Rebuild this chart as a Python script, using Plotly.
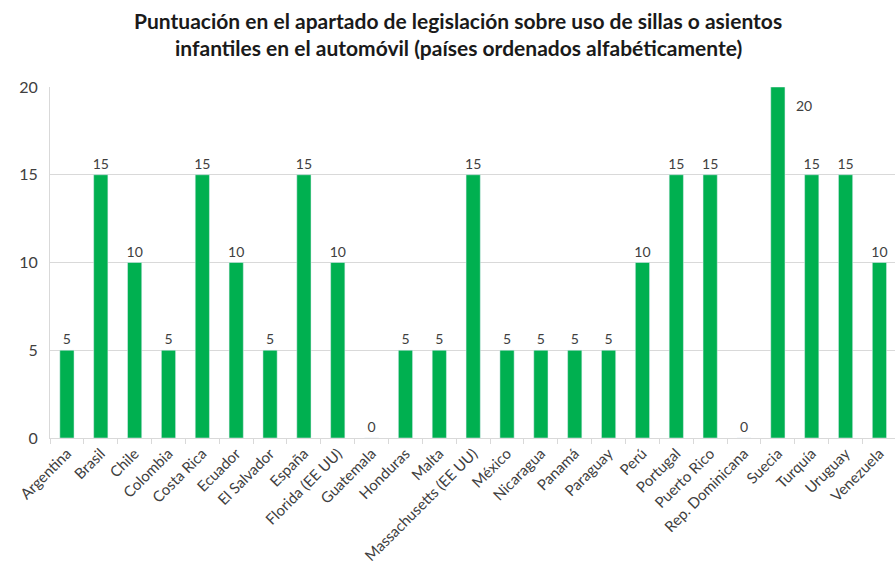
import plotly.graph_objects as go

# Scores per country (alphabetical order)
paises = ["Argentina", "Brasil", "Chile", "Colombia", "Costa Rica", "Ecuador",
          "El Salvador", "España", "Florida (EE UU)", "Guatemala", "Honduras",
          "Malta", "Massachusetts (EE UU)", "México", "Nicaragua", "Panamá",
          "Paraguay", "Perú", "Portugal", "Puerto Rico", "Rep. Dominicana",
          "Suecia", "Turquía", "Uruguay", "Venezuela"]
puntuacion = [5, 15, 10, 5, 15, 10, 5, 15, 10, 0, 5, 5, 15, 5, 5, 5, 5, 10,
              15, 15, 0, 20, 15, 15, 10]
y_ticks = [0, 5, 10, 15, 20]
titulo = ["Puntuación en el apartado de legislación sobre uso de sillas o asientos",
          "infantiles en el automóvil (países ordenados alfabéticamente)"]

y_max = max(y_ticks)
label_font = dict(family="Lato", size=14, color="#404040")
# labels for bars that reach the top of the axis are drawn beside the bar
text_inside_range = [str(v) if v < y_max else "" for v in puntuacion]

fig = go.Figure(go.Bar(
    x=paises,
    y=puntuacion,
    marker_color="#00B050",
    width=0.42,
    text=text_inside_range,
    textposition="outside",
    constraintext="none",
    textfont=label_font,
    cliponaxis=False,
))

for p, v in zip(paises, puntuacion):
    if v >= y_max:
        fig.add_annotation(x=p, y=v, text=str(v), showarrow=False,
                           xshift=26, yshift=-18, font=label_font)

# two-line title drawn as centred annotations above the plot area
for linea, shift in zip(titulo, [67, 40]):
    fig.add_annotation(text=linea, xref="paper", yref="paper",
                       x=(458 - 50) / 845, y=1, xanchor="center",
                       yanchor="middle", yshift=shift, showarrow=False,
                       font=dict(family="Lato", size=21, color="#1a1a1a",
                                 weight="bold"))

fig.update_layout(
    width=895, height=576,
    margin=dict(l=50, r=0, t=87, b=138),
    paper_bgcolor="white", plot_bgcolor="white",
    showlegend=False,
    font=dict(family="Lato", color="#404040"),
)

fig.update_xaxes(
    range=[-0.5, 24.46],
    tickangle=-45,
    tickfont=dict(family="Lato", size=15, color="#404040"),
    showline=True, linecolor="#d9d9d9", linewidth=1,
    ticks="outside", ticklen=5, tickcolor="#d9d9d9", tickson="boundaries",
    showgrid=False,
)
fig.update_yaxes(
    range=[0, y_max],
    tickvals=y_ticks,
    tickfont=dict(family="Lato", size=16, color="#404040"),
    showline=True, linecolor="#d9d9d9", linewidth=1,
    showgrid=True, gridcolor="#d9d9d9", gridwidth=1,
    zeroline=False,
    ticks="", ticklabelstandoff=8,
)

fig.write_html("out.html")
